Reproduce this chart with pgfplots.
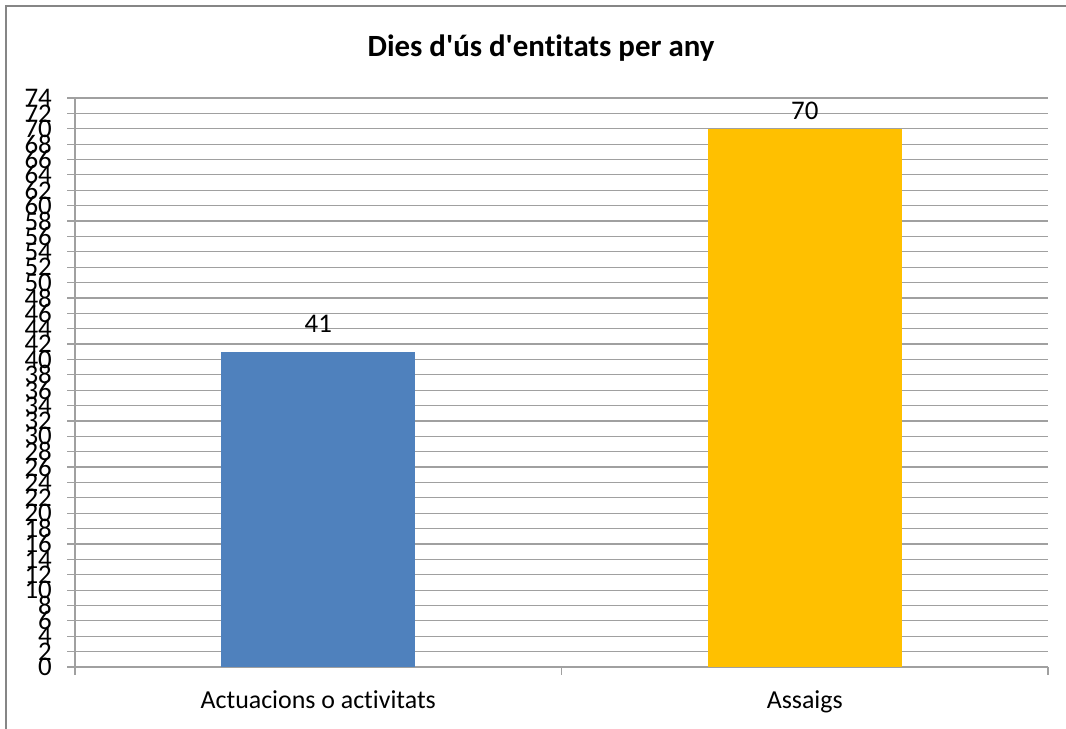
\documentclass[border=0pt]{standalone}
\usepackage{pgfplots}
\pgfplotsset{compat=1.18}
\usepackage{fontspec}
\setmainfont{Carlito}[Ligatures={TeXOff,NoCommon}]
\definecolor{barblue}{HTML}{4F81BD}
\definecolor{baryellow}{HTML}{FFC000}
\definecolor{gridgray}{HTML}{A0A0A0}
\definecolor{framegray}{HTML}{868686}
\begin{document}
\begin{tikzpicture}
\path[use as bounding box] (0,0) rectangle (1066bp,729bp);
\draw[framegray, line width=2.2bp] (6bp,0bp) -- (6bp,723bp) -- (1066bp,723bp);
\node[anchor=base, inner sep=0pt, font=\fontsize{31}{31}\selectfont\bfseries] at (541bp,672bp) {Dies d'ús d'entitats per any};
\begin{axis}[
  at={(75bp,62bp)}, anchor=south west,
  scale only axis, width=973bp, height=569bp,
  xmin=-0.5, xmax=1.5, ymin=0, ymax=74,
  ytick={0,2,...,74},
  /pgf/number format/assume math mode=true,
  ymajorgrids, grid style={gridgray, line width=1.2bp},
  axis x line*=bottom, axis y line*=left,
  axis line style={gridgray, line width=1.2bp},
  tick align=outside, major tick length=8bp,
  tick style={gridgray, line width=1.2bp},
  xtick={-0.5,0.5,1.5}, xticklabels={},
  extra x ticks={0,1}, extra x tick labels={Actuacions o activitats,Assaigs},
  extra x tick style={major tick length=0pt, grid=none},
  xticklabel style={font=\fontsize{26}{26}\selectfont, anchor=base, inner sep=0pt, yshift=-41bp},
  yticklabel style={font=\fontsize{27}{27}\selectfont, inner sep=0pt, xshift=-15bp},
  ybar, bar width=194bp, bar shift=0pt,
  nodes near coords,
  nodes near coords style={font=\fontsize{27}{27}\selectfont, anchor=south, inner sep=0pt, text=black},
]
\addplot[fill=barblue, draw=none, nodes near coords style={yshift=19bp}] coordinates {(0,41)};
\addplot[fill=baryellow, draw=none, nodes near coords style={yshift=9bp}] coordinates {(1,70)};
\end{axis}
\end{tikzpicture}
\end{document}
